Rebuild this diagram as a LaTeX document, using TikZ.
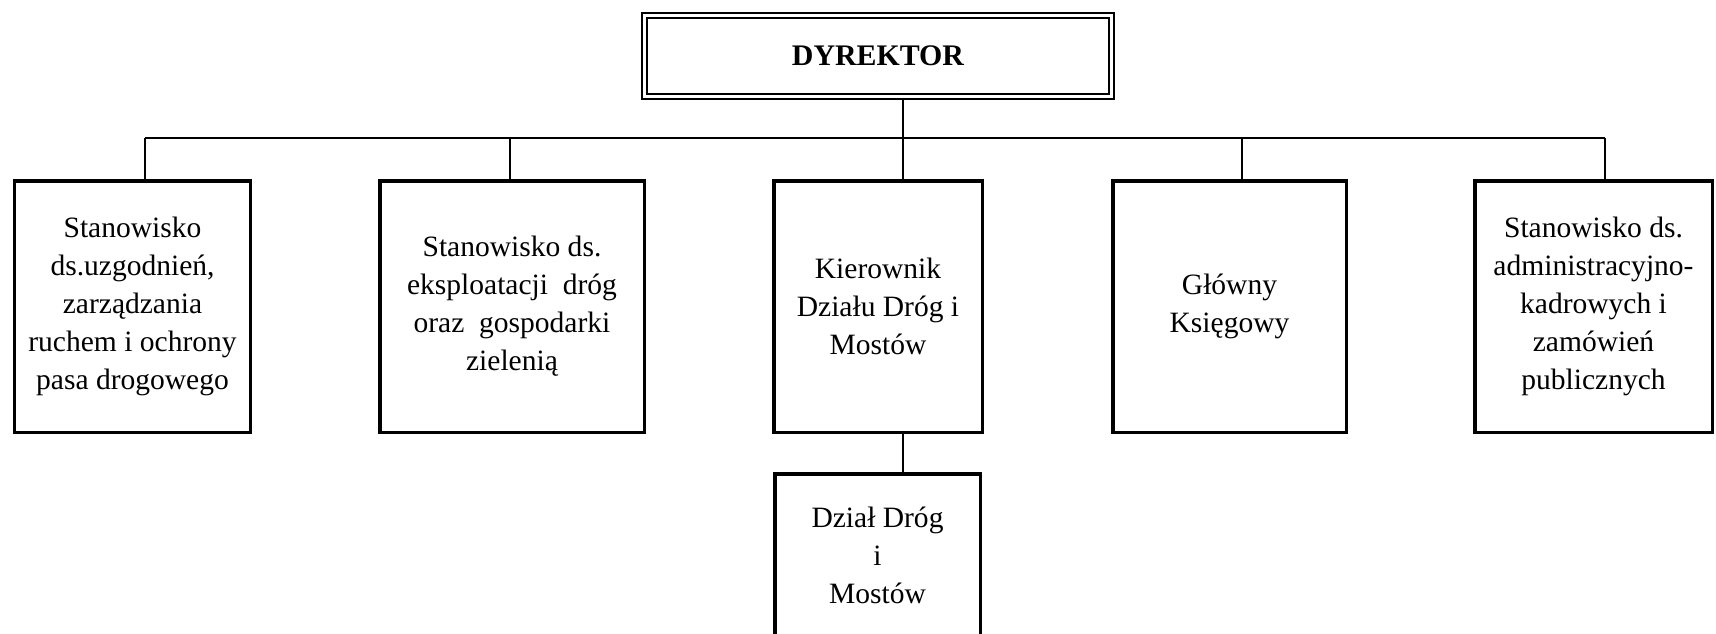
\documentclass[tikz,border=0pt]{standalone}
\usepackage{fontspec}
\setmainfont{Liberation Serif}
\usetikzlibrary{positioning}
\tikzstyle{szef}=[
        draw,
        rectangle,
        double,
        double distance=0.06cm,
        line width=0.04cm,
        minimum width=9.34cm,
        minimum height=1.62cm,
        inner sep=0pt,
        font=\fontsize{17}{20}\selectfont\bfseries
]
\tikzstyle{stanowisko}=[rectangle,draw,line width=0.07cm,minimum height=5.03cm,inner sep=0pt,align=center,font=\fontsize{16.8}{21.6}\selectfont]
\tikzstyle{dzial}=[stanowisko,minimum height=3.25cm]
\tikzstyle{linia}=[line width=0.04cm]
\begin{document}
\begin{tikzpicture}
\useasboundingbox (0,0) rectangle (34.32,-12.66);
\node[szef] (dyr) at (17.56,-1.12) {DYREKTOR};
\node[stanowisko,minimum width=4.71cm] (b1) at (2.65,-6.13) {Stanowisko\\ds.uzgodnień,\\zarządzania\\ruchem i ochrony\\pasa drogowego};
\node[stanowisko,minimum width=5.29cm] (b2) at (10.24,-6.13) {Stanowisko ds.\\eksploatacji\ \ dróg\\oraz\ \ gospodarki\\zielenią};
\node[stanowisko,minimum width=4.17cm] (b3) at (17.56,-6.13) {Kierownik\\Działu Dróg i\\Mostów};
\node[stanowisko,minimum width=4.67cm] (b4) at (24.59,-6.13) {Główny\\Księgowy};
\node[stanowisko,minimum width=4.75cm] (b5) at (31.87,-6.13) {Stanowisko ds.\\administracyjno-\\kadrowych i\\zamówień\\publicznych};
\node[dzial,minimum width=4.11cm] (dzial) at (17.55,-11.1) {Dział Dróg\\i\\Mostów};
%polaczenia
\coordinate (j1) at (2.9,-2.76);
\coordinate (j2) at (10.2,-2.76);
\coordinate (j3) at (18.06,-2.76);
\coordinate (j4) at (24.84,-2.76);
\coordinate (j5) at (32.1,-2.76);
\draw[linia] (j1) -- (j5);
\draw[linia] (dyr.south -| j3) -- (j3);
\draw[linia] (j1) -- (j1 |- b1.north);
\draw[linia] (j2) -- (j2 |- b2.north);
\draw[linia] (j3) -- (j3 |- b3.north);
\draw[linia] (j4) -- (j4 |- b4.north);
\draw[linia] (j5) -- (j5 |- b5.north);
\draw[linia] (b3.south -| j3) -- (j3 |- dzial.north);
\end{tikzpicture}
\end{document}
